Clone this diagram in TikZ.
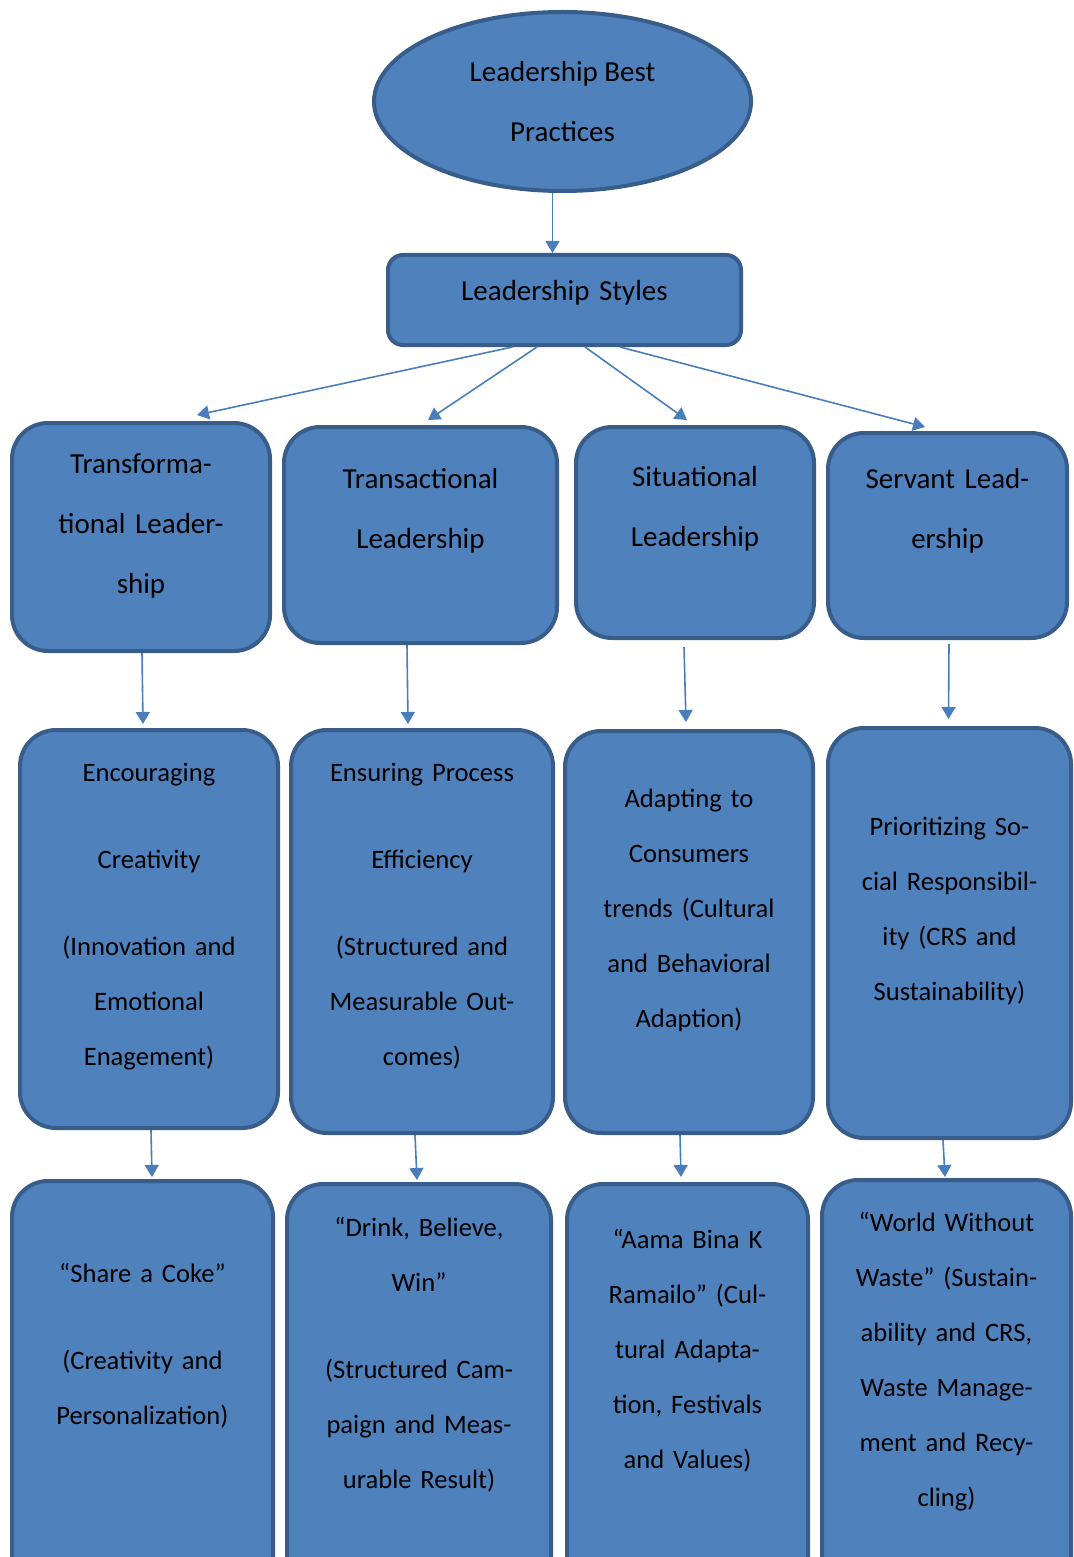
\documentclass[tikz,border=0pt]{standalone}
\usepackage{fontspec}
\setmainfont{Carlito}
\usetikzlibrary{arrows.meta,shapes.geometric}
\definecolor{BoxBlue}{RGB}{79,129,189}
\definecolor{BoxEdge}{RGB}{56,93,138}
\definecolor{LinkBlue}{RGB}{74,126,187}

\begin{document}
\begin{tikzpicture}[x=0.5pt, y=-0.5pt,
    card/.style={draw=BoxEdge, fill=BoxBlue, line width=2pt, rounded corners=18pt, anchor=north, align=center, inner sep=0pt},
    upper/.style={card, font=\fontsize{14.5}{30}\selectfont},
    lower/.style={card, font=\fontsize{13.3}{27.5}\selectfont},
    arr/.style={-{Triangle[width=7pt,length=6pt]}, LinkBlue, line width=0.8pt}
  ]
  \useasboundingbox (0,0) rectangle (1073,1557);
  \clip (0,0) rectangle (1073,1557);

  % Top: best practices and styles
  \node[ellipse, draw=BoxEdge, fill=BoxBlue, line width=2pt, minimum width=188.5pt, minimum height=89.5pt, inner sep=0pt, align=center, font=\fontsize{14.5}{30}\selectfont] (best) at (562.5,101.5) {Leadership Best\\Practices};
  \node[upper, rounded corners=7.5pt, text width=176.5pt, text height=22.5pt, text depth=22.5pt] (sty) at (564.5,253) {Leadership Styles};
  \draw[arr] ([xshift=-5pt]best.south) -- ([xshift=-6pt]sty.north);

  % Row of styles
  \node[upper, text width=129pt, text height=25pt, text depth=89pt] (trf) at (141,421) {Transforma-\\tional Leader-\\ship};
  \node[upper, text width=136.5pt, text height=30.5pt, text depth=77.5pt] (trs) at (420.5,425) {Transactional\\Leadership};
  \node[upper, text width=119pt, text height=29.5pt, text depth=76pt] (sit) at (695,425) {Situational\\Leadership};
  \node[upper, text width=119.5pt, text height=27.5pt, text depth=75pt] (srv) at (947.5,431) {Servant Lead-\\ership};
  \draw[arr] ([xshift=-26pt]sty.south) -- ([xshift=28pt,yshift=3pt]trf.north);
  \draw[arr] ([xshift=-13.75pt]sty.south) -- ([xshift=3.75pt,yshift=2.5pt]trs.north);
  \draw[arr] ([xshift=10.25pt]sty.south) -- ([xshift=-4pt,yshift=2.5pt]sit.north);
  \draw[arr] ([xshift=27.75pt]sty.south) -- ([xshift=-11.25pt,yshift=2pt]srv.north);

  % Row of practices
  \node[lower, text width=129pt, text height=25.5pt, text depth=173.5pt] (enc) at (149,728) {Encouraging\\[16pt]Creativity\\[16pt](Innovation and\\Emotional\\Enagement)};
  \node[lower, text width=131pt, text height=25.5pt, text depth=176pt] (ens) at (422,728) {Ensuring Process\\[16pt]Efficiency\\[16pt](Structured and\\Measurable Out-\\comes)};
  \node[lower, text width=124pt, text height=38pt, text depth=163pt] (ada) at (689,729) {Adapting to\\Consumers\\trends (Cultural\\and Behavioral\\Adaption)};
  \node[lower, text width=121.5pt, text height=53.5pt, text depth=151.5pt] (pri) at (949.5,726) {Prioritizing So-\\cial Responsibil-\\ity (CRS and\\Sustainability)};
  \draw[arr] ([xshift=0.5pt]trf.south) -- ([xshift=-3pt,yshift=2pt]enc.north);
  \draw[arr] ([xshift=-6.75pt]trs.south) -- ([xshift=-7pt,yshift=2pt]ens.north);
  \draw[arr] ([xshift=-5.5pt,yshift=-3.5pt]sit.south) -- ([xshift=-1.5pt,yshift=3.5pt]ada.north);
  \draw[arr] ([xshift=0.75pt,yshift=-2pt]srv.south) -- ([xshift=-0.5pt,yshift=3.5pt]pri.north);

  % Row of campaigns
  \node[lower, text width=130.5pt, text height=50.5pt, text depth=160pt] (cok) at (142.5,1179) {“Share a Coke”\\[16pt](Creativity and\\Personalization)};
  \node[lower, text width=132pt, text height=26pt, text depth=183pt] (drk) at (419,1182) {“Drink, Believe,\\Win”\\[16pt](Structured Cam-\\paign and Meas-\\urable Result)};
  \node[lower, text width=120.5pt, text height=32pt, text depth=177pt] (aam) at (687.5,1182) {“Aama Bina K\\Ramailo” (Cul-\\tural Adapta-\\tion, Festivals\\and Values)};
  \node[lower, text width=124.5pt, text height=25.5pt, text depth=185.5pt] (wld) at (946.5,1178) {“World Without\\Waste” (Sustain-\\ability and CRS,\\Waste Manage-\\ment and Recy-\\cling)};
  \draw[arr] ([xshift=1pt]enc.south) -- ([xshift=4.75pt,yshift=1pt]cok.north);
  \draw[arr] ([xshift=-3.5pt]ens.south) -- ([xshift=-1pt,yshift=1pt]drk.north);
  \draw[arr] ([xshift=-4.5pt]ada.south) -- ([xshift=-3.25pt,yshift=2.5pt]aam.north);
  \draw[arr] ([xshift=-3.25pt]pri.south) -- ([xshift=-0.75pt,yshift=0.5pt]wld.north);
\end{tikzpicture}
\end{document}
